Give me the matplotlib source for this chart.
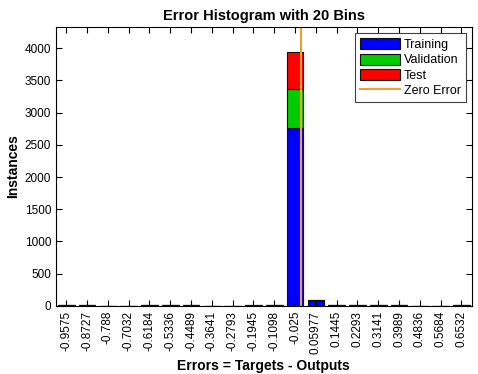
import matplotlib
matplotlib.use("Agg")
import matplotlib.pyplot as plt
import numpy as np

plt.rcParams['font.family'] = ['Liberation Sans', 'DejaVu Sans']

bin_centers = [-0.9575, -0.8727, -0.788, -0.7032, -0.6184, -0.5336, -0.4489, -0.3641,
               -0.2793, -0.1945, -0.1098, -0.025, 0.05977, 0.1445, 0.2293, 0.3141,
               0.3989, 0.4836, 0.5684, 0.6532]
tick_labels = ['-0.9575', '-0.8727', '-0.788', '-0.7032', '-0.6184', '-0.5336', '-0.4489',
               '-0.3641', '-0.2793', '-0.1945', '-0.1098', '-0.025', '0.05977', '0.1445',
               '0.2293', '0.3141', '0.3989', '0.4836', '0.5684', '0.6532']
training   = [12, 10, 0, 0, 10, 10, 10, 0, 0, 6, 8, 2765, 80, 8, 8, 8, 8, 0, 0, 10]
validation = [2, 2, 0, 0, 2, 2, 2, 0, 0, 1, 2, 595, 8, 2, 2, 2, 2, 0, 0, 2]
test       = [2, 2, 0, 0, 2, 2, 2, 0, 0, 1, 2, 585, 6, 2, 2, 2, 2, 0, 0, 2]

fig = plt.figure(figsize=(4.78, 3.74), dpi=100)
ax = fig.add_axes([0.117, 0.182, 0.870, 0.746])

x = np.arange(1, len(bin_centers) + 1)
tr = np.array(training); va = np.array(validation); te = np.array(test)
w = 0.8
b1 = ax.bar(x, tr, w, color='#0000FF', edgecolor='#101010', linewidth=0.8, label='Training')
b2 = ax.bar(x, va, w, bottom=tr, color='#00CC00', edgecolor='#101010', linewidth=0.8, label='Validation')
b3 = ax.bar(x, te, w, bottom=tr + va, color='#FF0000', edgecolor='#101010', linewidth=0.8, label='Test')

zero_pos = np.interp(0.0, bin_centers, x)
zl = ax.axvline(zero_pos, color='#F0A030', linewidth=1.5, label='Zero Error')

ax.set_xlim(0.5, 20.5)
ax.set_ylim(0, 4330)
ax.set_xticks(x)
ax.set_xticklabels(tick_labels, rotation=90, fontsize=8.5)
ax.set_yticks(np.arange(0, 4001, 500))
ax.tick_params(axis='y', labelsize=8.5)
ax.tick_params(direction='in', top=True, right=True, length=4, width=0.8)

ax.set_title('Error Histogram with 20 Bins', fontsize=10.5, fontweight='bold', pad=5)
ax.set_ylabel('Instances', fontsize=10, fontweight='bold', labelpad=3)
ax.set_xlabel('Errors = Targets - Outputs', fontsize=10, fontweight='bold', labelpad=4)

leg = ax.legend([b1, b2, b3, zl], ['Training', 'Validation', 'Test', 'Zero Error'],
                loc='upper right', fontsize=9, fancybox=False, edgecolor='#404040',
                framealpha=1, handlelength=3.2, handleheight=1.0, handletextpad=0.3,
                labelspacing=0.2, borderpad=0.4, borderaxespad=0.5)
leg.get_frame().set_linewidth(0.8)

fig.savefig('out.png', dpi=100)
